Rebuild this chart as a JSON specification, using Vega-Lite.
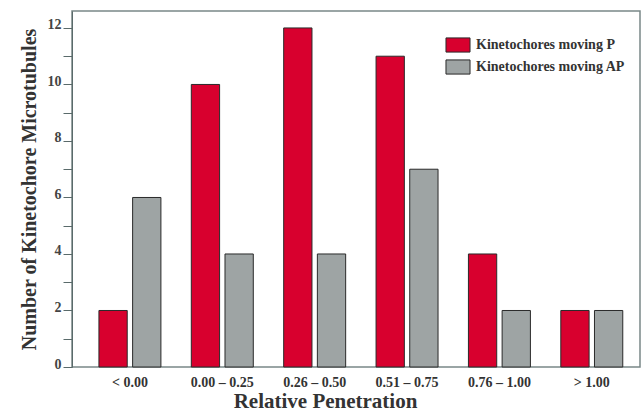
{
  "$schema": "https://vega.github.io/schema/vega-lite/v6.json",
  "autosize": {"type": "none"},
  "width": 568,
  "height": 356,
  "padding": {"left": 72, "top": 11, "right": 4, "bottom": 47},
  "background": "white",
  "config": {
    "font": "Liberation Serif",
    "view": {"stroke": "#7a8888", "strokeWidth": 1.5}
  },
  "data": {
    "values": [
      {"range": "< 0.00", "series": "Kinetochores moving P", "count": 2},
      {"range": "< 0.00", "series": "Kinetochores moving AP", "count": 6},
      {"range": "0.00 – 0.25", "series": "Kinetochores moving P", "count": 10},
      {"range": "0.00 – 0.25", "series": "Kinetochores moving AP", "count": 4},
      {"range": "0.26 – 0.50", "series": "Kinetochores moving P", "count": 12},
      {"range": "0.26 – 0.50", "series": "Kinetochores moving AP", "count": 4},
      {"range": "0.51 – 0.75", "series": "Kinetochores moving P", "count": 11},
      {"range": "0.51 – 0.75", "series": "Kinetochores moving AP", "count": 7},
      {"range": "0.76 – 1.00", "series": "Kinetochores moving P", "count": 4},
      {"range": "0.76 – 1.00", "series": "Kinetochores moving AP", "count": 2},
      {"range": "> 1.00", "series": "Kinetochores moving P", "count": 2},
      {"range": "> 1.00", "series": "Kinetochores moving AP", "count": 2}
    ]
  },
  "mark": {"type": "bar", "stroke": "#2a2a2a", "strokeWidth": 1},
  "encoding": {
    "x": {
      "field": "range",
      "type": "nominal",
      "sort": null,
      "scale": {"paddingInner": 0.329, "paddingOuter": 0.239, "align": 0.61},
      "axis": {
        "title": "Relative Penetration",
        "titleFont": "Liberation Serif",
        "titleFontSize": 21,
        "titleFontWeight": "bold",
        "titleColor": "#333",
        "titleX": 253,
        "titleY": 40,
        "titleBaseline": "alphabetic",
        "labelAngle": 0,
        "labelFont": "Liberation Serif",
        "labelFontSize": 14,
        "labelFontWeight": "bold",
        "labelColor": "#333",
        "labelPadding": 8,
        "ticks": false,
        "domain": false
      }
    },
    "xOffset": {
      "field": "series",
      "type": "nominal",
      "sort": ["Kinetochores moving P", "Kinetochores moving AP"],
      "scale": {"paddingInner": 0.16, "paddingOuter": 0}
    },
    "y": {
      "field": "count",
      "type": "quantitative",
      "scale": {"domain": [0, 12.6], "nice": false},
      "axis": {
        "title": "Number of Kinetochore Microtubules",
        "titleFont": "Liberation Serif",
        "titleFontSize": 20,
        "titleFontWeight": "bold",
        "titleColor": "#333",
        "titlePadding": 8,
        "values": [0,1,2,3,4,5,6,7,8,9,10,11,12],
        "labelExpr": "datum.value % 2 == 0 ? datum.label : ''",
        "labelFont": "Liberation Serif",
        "labelFontSize": 14,
        "labelFontWeight": "bold",
        "labelColor": "#444",
        "labelOffset": -3,
        "labelPadding": 2,
        "tickSize": 9,
        "tickColor": "#5a6a6a",
        "domainColor": "#5a6a6a",
        "grid": false
      }
    },
    "color": {
      "field": "series",
      "type": "nominal",
      "sort": ["Kinetochores moving P", "Kinetochores moving AP"],
      "scale": {
        "domain": ["Kinetochores moving P", "Kinetochores moving AP"],
        "range": ["#d8002e", "#9ea4a4"]
      },
      "legend": {
        "title": null,
        "orient": "none",
        "legendX": 378,
        "legendY": 26,
        "symbolType": "M-1.7,-1L1.7,-1L1.7,1L-1.7,1Z",
        "symbolSize": 200,
        "symbolStrokeColor": "#2a2a2a",
        "symbolStrokeWidth": 1,
        "symbolOpacity": 1,
        "labelFont": "Liberation Serif",
        "labelFontSize": 14,
        "labelFontWeight": "bold",
        "labelColor": "#333",
        "labelOffset": 10,
        "rowPadding": 2
      }
    }
  }
}
